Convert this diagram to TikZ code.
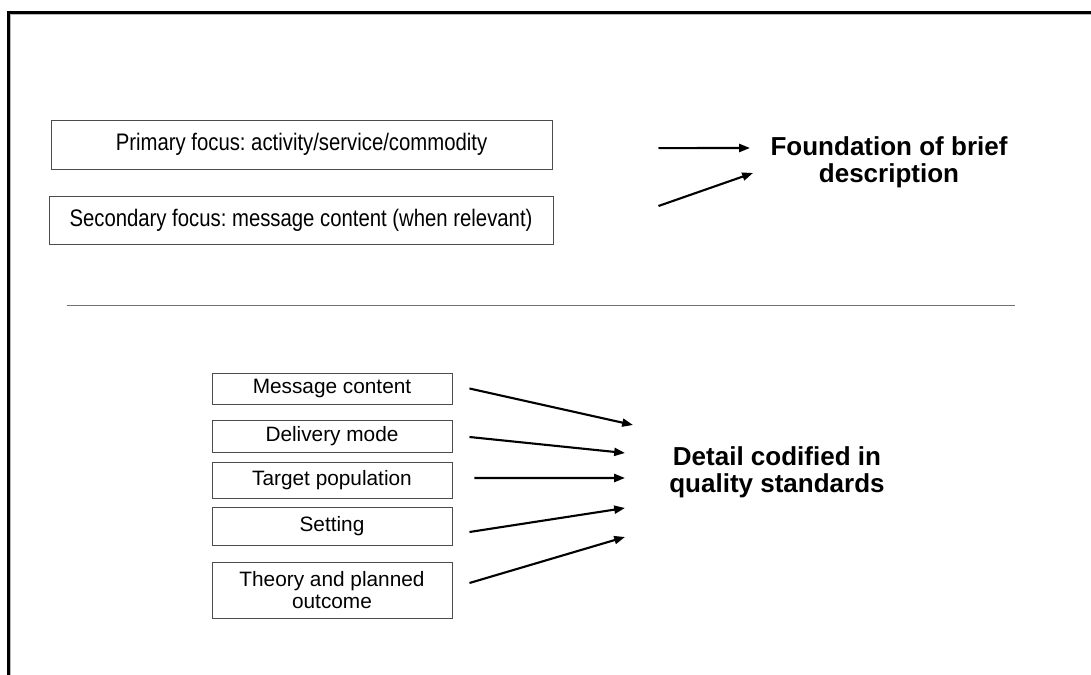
\documentclass[tikz,border=0pt]{standalone}
\usepackage{fontspec}
\setmainfont{Liberation Sans}
\newfontfamily\condfont[FakeStretch=0.85]{Liberation Sans}
\frenchspacing
\usetikzlibrary{arrows.meta,positioning}

\begin{document}
\begin{tikzpicture}[
    box/.style={draw=black!70, line width=0.7pt, rectangle, inner sep=0pt, align=center,
      font=\fontsize{14.8}{15.6}\selectfont},
    wide box/.style={box, font=\condfont\fontsize{17}{18}\selectfont},
    arr/.style={-{Triangle[length=0.27cm, width=0.2cm]}, line width=1.5pt},
    lbl/.style={align=center, inner sep=0pt, font=\fontsize{18.5}{19}\selectfont\bfseries}]
  \useasboundingbox (0,0) rectangle (27.275,16.85);

  % Frame
  \draw[gray!55, line width=1.2pt] (0.26,-0.1) -- (0.26,16.5) -- (27.4,16.5);
  \draw[line width=1.7pt] (0.2125,-0.1) -- (0.2125,16.5375) -- (27.4,16.5375);

  % Primary and secondary focus
  \node[wide box, minimum width=12.525cm, minimum height=1.225cm] (prim) at (7.5375,13.2375) {Primary focus: activity/service/commodity};
  \node[wide box, minimum width=12.6cm, minimum height=1.2cm] (sec) at (7.525,11.35) {Secondary focus: message content (when relevant)};

  % Foundation
  \node[lbl] (fnd) at (22.225,12.8) {Foundation of brief\\description};
  \coordinate (fnd-in1) at (18.75,13.15);
  \coordinate (fnd-in2) at (18.825,12.525);
  \draw[arr] ([xshift=2.65cm, yshift=-0.09cm]prim.east) -- (fnd-in1);
  \draw[arr] ([xshift=2.625cm, yshift=0.35cm]sec.east) -- (fnd-in2);

  % Separator
  \draw[black!55, line width=0.6pt] (1.675,9.225) -- (25.375,9.225);

  % Components
  \node[box, minimum width=6cm, minimum height=0.775cm] (msg) at (8.3,7.1375) {Message content};
  \node[box, minimum width=6cm, minimum height=0.8cm] (dlv) at (8.3,5.95) {Delivery mode};
  \node[box, minimum width=6cm, minimum height=0.9cm] (tgt) at (8.3,4.85) {Target population};
  \node[box, minimum width=6cm, minimum height=0.95cm] (set) at (8.3,3.7) {Setting};
  \node[box, minimum width=6cm, minimum height=1.4cm] (thy) at (8.3,2.1) {Theory and planned\\outcome};

  % Quality standards
  \node[lbl] (std) at (19.425,5.05) {Detail codified in\\quality standards};
  \coordinate (std-in1) at (15.825,6.225);
  \coordinate (std-in2) at (15.625,5.525);
  \coordinate (std-in3) at (15.625,4.9);
  \coordinate (std-in4) at (15.625,4.15);
  \coordinate (std-in5) at (15.625,3.425);
  \draw[arr] ([xshift=0.425cm]msg.east) -- (std-in1);
  \draw[arr] ([xshift=0.425cm, yshift=-0.025cm]dlv.east) -- (std-in2);
  \draw[arr] ([xshift=0.55cm, yshift=0.05cm]tgt.east) -- (std-in3);
  \draw[arr] ([xshift=0.425cm, yshift=-0.15cm]set.east) -- (std-in4);
  \draw[arr] ([xshift=0.425cm, yshift=0.175cm]thy.east) -- (std-in5);
\end{tikzpicture}
\end{document}
